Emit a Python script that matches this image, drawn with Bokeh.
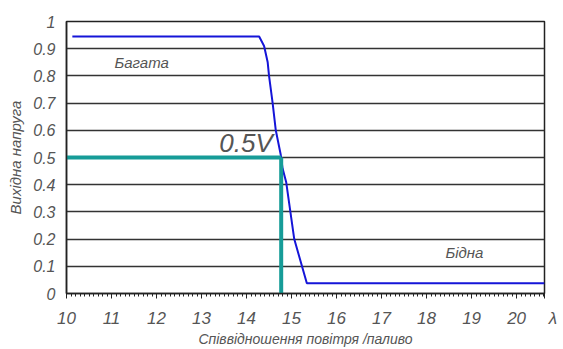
from bokeh.plotting import figure
from bokeh.models import FixedTicker, Range1d, Label
from bokeh.embed import file_html
from bokeh.resources import INLINE

# ---- data ----
curve_x = [10.13, 14.28, 14.39, 14.47, 14.50, 14.58, 14.65, 14.76, 14.80, 14.88, 15.06, 15.34, 20.62]
curve_y = [0.945, 0.945, 0.91, 0.85, 0.80, 0.70, 0.60, 0.51, 0.46, 0.41, 0.20, 0.038, 0.038]
stoich_x = 14.77
stoich_y = 0.5
x_min, x_max = 10, 20.62
x_ticks = [10, 11, 12, 13, 14, 15, 16, 17, 18, 19, 20]
x_labels = ["10", "11", "12", "13", "14", "15", "16", "17", "18", "19", "20"]
y_ticks = [0, 0.1, 0.2, 0.3, 0.4, 0.5, 0.6, 0.7, 0.8, 0.9, 1]
y_labels = ["0", "0.1", "0.2", "0.3", "0.4", "0.5", "0.6", "0.7", "0.8", "0.9", "1"]
rich_text = "Багата"
lean_text = "Бідна"
mark_text = "0.5V"
x_title = "Співвідношення повітря /паливо"
y_title = "Вихідна напруга"
lam_text = "\u2003λ"

FONT = "Liberation Sans"
TXT = "#555555"

p = figure(width=560, height=349, output_backend="svg", toolbar_location=None,
           x_range=Range1d(x_min, x_max), y_range=Range1d(0, 1),
           min_border_left=66, min_border_right=16, min_border_top=21, min_border_bottom=50)
p.background_fill_color = "white"
p.border_fill_color = "white"
p.outline_line_color = "#222222"
p.outline_line_width = 1.5

# axes
overrides = dict(zip(x_ticks, x_labels))
overrides[x_max] = lam_text
p.xaxis.ticker = FixedTicker(ticks=x_ticks + [x_max],
                             minor_ticks=[10 + i / 10 for i in range(0, 107)])
p.xaxis.major_label_overrides = overrides
p.yaxis.ticker = FixedTicker(ticks=y_ticks)
p.yaxis.major_label_overrides = dict(zip(y_ticks, y_labels))

for ax in (p.xaxis, p.yaxis):
    ax.axis_line_color = "#222222"
    ax.axis_line_width = 1.5
    ax.major_label_text_font = FONT
    ax.major_label_text_font_style = "italic"
    ax.major_label_text_color = TXT
    ax.axis_label_text_font = FONT
    ax.axis_label_text_font_style = "italic"
    ax.axis_label_text_color = TXT

p.xaxis.major_label_text_font_size = "17px"
p.yaxis.major_label_text_font_size = "16px"
p.xaxis.major_tick_out = 5
p.xaxis.major_tick_in = 0
p.xaxis.minor_tick_out = 3
p.xaxis.minor_tick_in = 0
p.xaxis.major_tick_line_color = "#222222"
p.xaxis.minor_tick_line_color = "#222222"
p.xaxis.major_label_standoff = 10
p.xaxis.axis_label = x_title
p.xaxis.axis_label_text_font_size = "14px"
p.xaxis.axis_label_standoff = 0

p.yaxis.major_tick_line_color = None
p.yaxis.minor_tick_line_color = None
p.yaxis.major_label_standoff = 5
p.yaxis.axis_label = y_title
p.yaxis.axis_label_text_font_size = "15px"
p.yaxis.axis_label_standoff = 6

p.xgrid.grid_line_color = None
p.ygrid.ticker = FixedTicker(ticks=y_ticks)
p.ygrid.grid_line_color = "#333333"
p.ygrid.grid_line_width = 1.5
p.ygrid.grid_line_alpha = 1

# curve
p.line(curve_x, curve_y, line_color="#1515d8", line_width=2)

# stoichiometric marker
TEAL = "#169c98"
p.line([x_min, stoich_x], [stoich_y, stoich_y], line_color=TEAL, line_width=4)
p.line([stoich_x, stoich_x], [stoich_y, 0], line_color=TEAL, line_width=4)

# annotations
p.add_layout(Label(x=11.67, y=0.85, text=rich_text, text_font=FONT, text_font_style="italic",
                   text_font_size="15px", text_color=TXT, text_align="center", text_baseline="middle"))
p.add_layout(Label(x=18.84, y=0.15, text=lean_text, text_font=FONT, text_font_style="italic",
                   text_font_size="15px", text_color=TXT, text_align="center", text_baseline="middle"))
p.add_layout(Label(x=13.99, y=0.555, text=mark_text, text_font=FONT, text_font_style="italic",
                   text_font_size="26px", text_color=TXT, text_align="center", text_baseline="middle"))

open("out.html", "w").write(file_html(p, INLINE))
